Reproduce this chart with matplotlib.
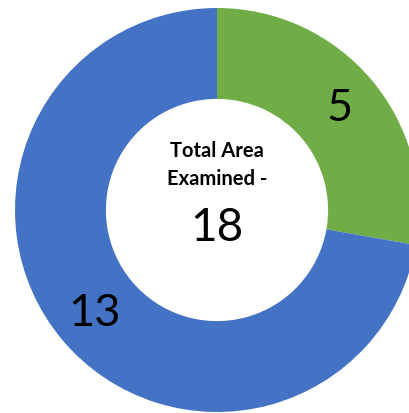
import matplotlib
matplotlib.use("Agg")
import matplotlib.pyplot as plt

# data
categories = ["Green area", "Blue area"]
values = [5, 13]
colors = ["#70AD47", "#4472C4"]
center_title = "Total Area\nExamined -"

total = sum(values)


def make_autopct(vals):
    def my_autopct(pct):
        return "{v:d}".format(v=int(round(pct * sum(vals) / 100.0)))
    return my_autopct


plt.rcParams["font.family"] = ["Lato", "DejaVu Sans"]

fig = plt.figure(figsize=(4.10, 4.14), dpi=100)
ax = fig.add_axes([0, 0, 1, 1])

wedges, texts, autotexts = ax.pie(
    values,
    colors=colors,
    startangle=90,
    counterclock=False,
    center=(217, 203),
    radius=202,
    wedgeprops=dict(width=202 * 0.45, linewidth=0),
    autopct=make_autopct(values),
    pctdistance=0.79,
    textprops=dict(fontsize=32.5, color="black"),
    frame=True,
)
ax.set_xlim(0, 410)
ax.set_ylim(0, 414)
ax.set_aspect("equal")
ax.axis("off")

ax.text(217, 414 - 165, center_title, ha="center", va="center",
        fontsize=14.5, fontweight="bold", linespacing=1.55)
ax.text(217, 414 - 228, str(total), ha="center", va="center", fontsize=33)

fig.savefig("out.png", dpi=100)
